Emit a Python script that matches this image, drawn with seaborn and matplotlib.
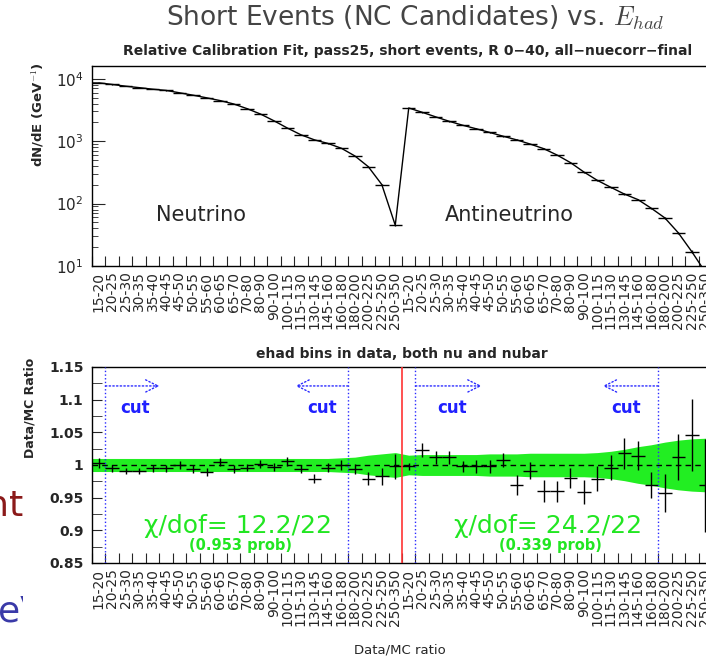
import numpy as np
import pandas as pd
import matplotlib
matplotlib.use("Agg")
import matplotlib.pyplot as plt
from matplotlib.ticker import MultipleLocator, LogLocator, NullFormatter, FixedLocator
from matplotlib.patches import Rectangle
import seaborn as sns

# bin labels (hadronic energy bins), same set for nu and nubar halves
bins = ["15-20", "20-25", "25-30", "30-35", "35-40", "40-45", "45-50", "50-55",
        "55-60", "60-65", "65-70", "70-80", "80-90", "90-100", "100-115",
        "115-130", "130-145", "145-160", "160-180", "180-200", "200-225",
        "225-250", "250-350"]

# dN/dE
nu_spec = [8600, 8100, 7600, 7200, 6800, 6500, 5950, 5450, 4950, 4470, 3950, 3320,
           2720, 2120, 1620, 1265, 1050, 920, 770, 580, 390, 202, 45]
nubar_spec = [3400, 2900, 2450, 2080, 1800, 1580, 1380, 1200, 1050, 900, 760, 600,
              453, 320, 235, 182, 142, 116, 84, 59, 34, 17, 8]

# data/MC ratio and its errors (lower panel)
nu_ratio = [1.003, 0.995, 0.991, 0.991, 0.995, 0.995, 1.000, 0.994, 0.989, 1.005,
            0.994, 0.996, 1.001, 0.997, 1.006, 0.994, 0.979, 0.996, 1.000, 0.994,
            0.979, 0.983, 0.998]
nu_err = [0.007, 0.005, 0.005, 0.005, 0.005, 0.005, 0.006, 0.006, 0.006, 0.006,
          0.006, 0.005, 0.006, 0.006, 0.007, 0.006, 0.007, 0.007, 0.007, 0.008,
          0.010, 0.013, 0.019]
nubar_ratio = [0.998, 1.023, 1.012, 1.012, 0.998, 0.998, 0.998, 1.008, 0.969, 0.991,
               0.960, 0.960, 0.980, 0.959, 0.979, 0.996, 1.018, 1.014, 0.969, 0.957,
               1.012, 1.046, 0.969]
nubar_err = [0.005, 0.011, 0.010, 0.010, 0.008, 0.010, 0.010, 0.011, 0.015, 0.013,
             0.017, 0.016, 0.015, 0.018, 0.019, 0.019, 0.024, 0.022, 0.020, 0.029,
             0.035, 0.055, 0.071]

# MC systematic band half-width
nu_band = [0.010, 0.010, 0.010, 0.010, 0.010, 0.010, 0.010, 0.010, 0.010, 0.010,
           0.010, 0.010, 0.010, 0.010, 0.010, 0.010, 0.010, 0.010, 0.011, 0.012,
           0.015, 0.017, 0.019]
nubar_band = [0.015, 0.016, 0.016, 0.016, 0.016, 0.016, 0.017, 0.017, 0.017, 0.018,
              0.018, 0.018, 0.018, 0.018, 0.019, 0.021, 0.024, 0.028, 0.031, 0.035,
              0.038, 0.040, 0.041]

chi2_text = ["\u03c7/dof= 12.2/22", "\u03c7/dof= 24.2/22"]
prob_text = ["(0.953 prob)", "(0.339 prob)"]

sns.set_style("ticks")
plt.rcParams["font.family"] = ["DejaVu Sans"]
plt.rcParams["mathtext.fontset"] = "cm"

labels = bins + bins
x = np.arange(len(labels))
spec = np.array(nu_spec + nubar_spec, dtype=float)
ratio = np.array(nu_ratio + nubar_ratio)
err = np.array(nu_err + nubar_err)
band = np.array(nu_band + nubar_band)
df = pd.DataFrame({"bin": x, "dnde": spec, "ratio": ratio, "err": err, "band": band})

W, H = 706, 662
fig = plt.figure(figsize=(W / 100, H / 100), dpi=100)

def box(l, t, r, b):
    return [l / W, 1 - b / H, (r - l) / W, (b - t) / H]

# slide fragments peeking out on the left, partly hidden behind the plot
fig.text(23 / W, 1 - 515 / H, "ent", ha="right", va="baseline", fontsize=26,
         color="#8b1a1a", zorder=-3)
fig.text(-2 / W, 1 - 622 / H, "eV", ha="left", va="baseline", fontsize=26,
         color="#3a3aa8", zorder=-3)
fig.patches.append(Rectangle((23 / W, 0), 1, 100 / H, transform=fig.transFigure,
                             facecolor="white", edgecolor="none", zorder=-2))

ax1 = fig.add_axes(box(92, 66, 712, 266))
ax2 = fig.add_axes(box(92, 367, 712, 563))

# ---- upper: spectrum
sns.lineplot(data=df, x="bin", y="dnde", ax=ax1, color="black", lw=1)
ax1.errorbar(df["bin"], df["dnde"], xerr=0.5, yerr=df["dnde"] * df["err"],
             fmt="none", ecolor="black", elinewidth=1)
ax1.set_yscale("log")
ax1.set_ylim(10, 1.6e4)
ax1.text(7.6, 66, "Neutrino", fontsize=15, ha="center", va="center")
ax1.text(30.5, 66, "Antineutrino", fontsize=15, ha="center", va="center")
ax1.yaxis.set_major_locator(LogLocator(base=10))
ax1.yaxis.set_minor_locator(LogLocator(base=10, subs=np.arange(2, 10)))
ax1.yaxis.set_minor_formatter(NullFormatter())
ax1.tick_params(axis="y", which="major", direction="in", length=9, labelsize=11, pad=6)
ax1.tick_params(axis="y", which="minor", direction="in", length=4.5)

# ---- lower: ratio
lo = 1 - df["band"]
hi = 1 + df["band"]
xb = np.r_[-0.5, df["bin"], len(x) - 0.5]
ax2.fill_between(xb, np.r_[lo.iloc[0], lo, lo.iloc[-1]], np.r_[hi.iloc[0], hi, hi.iloc[-1]],
                 color="#22ee22", lw=0, zorder=1)
ax2.axhline(1, color="black", lw=1, ls=(0, (4, 3)), zorder=2)
ax2.errorbar(df["bin"], df["ratio"], xerr=0.5, yerr=df["err"], fmt="none",
             ecolor="black", elinewidth=1, zorder=3)
ax2.set_ylim(0.85, 1.15)
ax2.yaxis.set_major_locator(MultipleLocator(0.05))
ax2.yaxis.set_minor_locator(MultipleLocator(0.025))
ax2.yaxis.set_major_formatter(lambda v, p: f"{v:.2f}".rstrip("0").rstrip("."))
ax2.tick_params(axis="y", which="major", direction="in", length=7, labelsize=10, pad=6)
ax2.tick_params(axis="y", which="minor", direction="in", length=7)
for lab in ax2.get_yticklabels():
    lab.set_fontweight("bold")

n = len(bins)
cuts = [0.5, n - 4.5, n + 0.5, 2 * n - 4.5]
for c in cuts:
    ax2.axvline(c, color="#2a2aff", lw=1, ls=":", zorder=4)
ax2.axvline(n - 0.5, color="#ff3333", lw=1.2, zorder=4)
arrows = [(cuts[0], 4.5), (cuts[1], 14.6), (cuts[2], 28.4), (cuts[3], 37.4)]
for x0, x1 in arrows:
    ax2.annotate("", xy=(x1, 1.121), xytext=(x0, 1.121),
                 arrowprops=dict(arrowstyle="->", color="#2a2aff", lw=1, ls=":",
                                 mutation_scale=22, shrinkA=0, shrinkB=0))
for cx in [2.7, 16.6, 26.2, 39.1]:
    ax2.text(cx, 1.087, "cut", color="#2020ff", fontsize=12, fontweight="bold",
             ha="center", va="center")
for cx, t1, t2 in [(10.3, chi2_text[0], prob_text[0]), (33.3, chi2_text[1], prob_text[1])]:
    ax2.text(cx, 0.907, t1, color="#22e622", fontsize=18, ha="center", va="center")
    ax2.text(cx + 0.2, 0.877, t2, color="#22e622", fontsize=10.5, fontweight="bold",
             ha="center", va="center")

for ax in (ax1, ax2):
    ax.set_xlim(-0.5, len(x) - 0.5)
    ax.xaxis.set_major_locator(FixedLocator(np.arange(len(x) + 1) - 0.5))
    ax.xaxis.set_minor_locator(FixedLocator(x))
    ax.set_xticklabels([], minor=False)
    ax.set_xticklabels(labels, minor=True, rotation=90, fontsize=10)
    ax.tick_params(axis="x", which="major", direction="in", length=7, labelbottom=False)
    ax.tick_params(axis="x", which="minor", length=0, pad=4)
    ax.set_xlabel("")
    ax.set_ylabel("")
    for s in ax.spines.values():
        s.set_visible(True)
        s.set_color("black")
        s.set_linewidth(1)

# titles / axis titles as figure text
fig.text(415 / W, 1 - 18 / H, "Short Events (NC Candidates) vs. $E_{had}$",
         fontsize=19, color="#444444", ha="center", va="center")
fig.text(408 / W, 1 - 51 / H,
         "Relative Calibration Fit, pass25, short events, R 0\u221240, all\u2212nuecorr\u2212final",
         fontsize=10, fontweight="bold", ha="center", va="center")
fig.text(402 / W, 1 - 354 / H, "ehad bins in data, both nu and nubar",
         fontsize=10, fontweight="bold", ha="center", va="center")
fig.text(38 / W, 1 - 62 / H, "dN/dE (GeV$^{-1}$)", rotation=90, fontsize=9.5,
         fontweight="bold", ha="center", va="top")
fig.text(30 / W, 1 - 358 / H, "Data/MC Ratio", rotation=90, fontsize=9,
         fontweight="bold", ha="center", va="top")
fig.text(400 / W, 1 - 650 / H, "Data/MC ratio", fontsize=9.5, ha="center", va="center")

fig.savefig("out.png", dpi=100)
